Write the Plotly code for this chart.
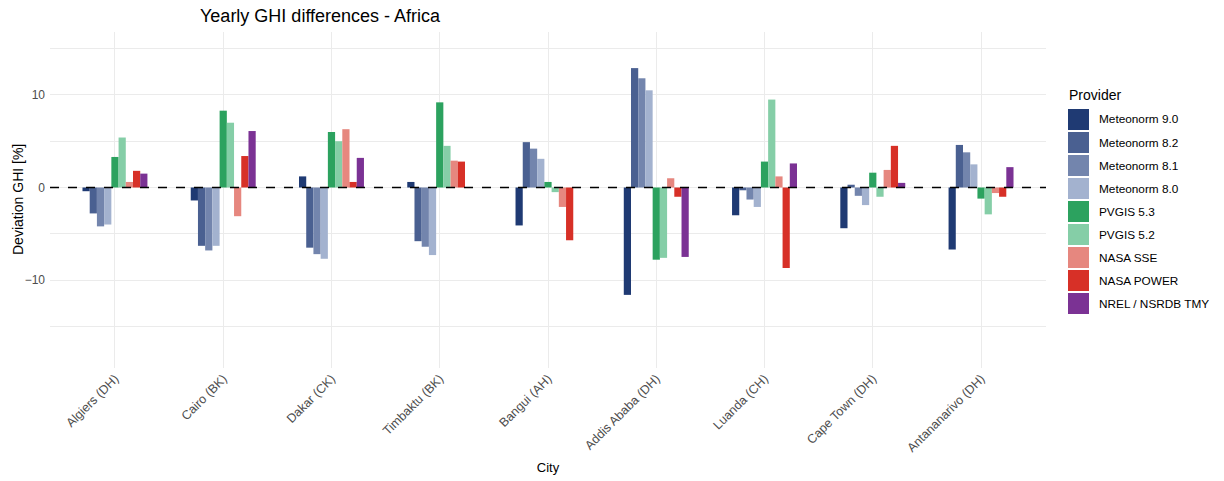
import plotly.graph_objects as go

# cities on the x axis
cities = ["Algiers (DH)", "Cairo (BK)", "Dakar (CK)", "Timbaktu (BK)", "Bangui (AH)",
          "Addis Ababa (DH)", "Luanda (CH)", "Cape Town (DH)", "Antananarivo (DH)"]

providers = ["Meteonorm 9.0", "Meteonorm 8.2", "Meteonorm 8.1", "Meteonorm 8.0",
             "PVGIS 5.3", "PVGIS 5.2", "NASA SSE", "NASA POWER", "NREL / NSRDB TMY"]

# deviation of yearly GHI [%] per provider, one value per city
meteonorm_90 = [-0.4, -1.4, 1.2, 0.6, -4.1, -11.6, -3.0, -4.4, -6.7]
meteonorm_82 = [-2.8, -6.3, -6.5, -5.8, 4.9, 12.9, -0.3, 0.3, 4.6]
meteonorm_81 = [-4.2, -6.8, -7.2, -6.4, 4.2, 11.8, -1.3, -0.9, 3.8]
meteonorm_80 = [-4.0, -6.3, -7.7, -7.3, 3.1, 10.5, -2.1, -1.9, 2.5]
pvgis_53 = [3.3, 8.3, 6.0, 9.2, 0.6, -7.8, 2.8, 1.6, -1.2]
pvgis_52 = [5.4, 7.0, 5.0, 4.5, -0.5, -7.6, 9.5, -1.0, -2.9]
nasa_sse = [0.6, -3.1, 6.3, 2.9, -2.1, 1.0, 1.2, 1.9, -0.6]
nasa_power = [1.8, 3.4, 0.6, 2.8, -5.7, -1.0, -8.7, 4.5, -1.0]
nrel_tmy = [1.5, 6.1, 3.2, None, None, -7.5, 2.6, 0.5, 2.2]

series = [meteonorm_90, meteonorm_82, meteonorm_81, meteonorm_80,
          pvgis_53, pvgis_52, nasa_sse, nasa_power, nrel_tmy]

colors = ["#1f3a73", "#4a6091", "#7385ad", "#a3b2cf",
          "#2ca25f", "#85cea7", "#e6877f", "#d73027", "#7b3294"]

W, H = 1224, 481
plot_l, plot_r, plot_t, plot_b = 50, 1046, 32, 368

fig = go.Figure()

for name, vals, col in zip(providers, series, colors):
    fig.add_trace(go.Bar(
        x=cities, y=vals, name=name,
        marker=dict(color=col, line=dict(width=0)),
        showlegend=False,
    ))

# dashed reference line at zero
fig.add_hline(y=0, line=dict(color="black", width=1.3, dash="dash"))


def px_x(x):
    return (x - plot_l) / (plot_r - plot_l)


def px_y(y):
    return (plot_b - y) / (plot_b - plot_t)


# y axis title placed by hand
fig.add_annotation(
    x=px_x(18), y=px_y(200), xref="paper", yref="paper", text="Deviation GHI [%]",
    showarrow=False, textangle=-90, xanchor="center", yanchor="middle",
    font=dict(size=14, color="black"),
)

# legend drawn by hand to get the large ggplot-style keys
fig.add_annotation(
    x=px_x(1067), y=px_y(95), xref="paper", yref="paper", text="Provider", showarrow=False,
    xanchor="left", yanchor="middle", font=dict(size=14, color="black"),
)
for i, (name, col) in enumerate(zip(providers, colors)):
    yc = 119.5 + i * 23
    fig.add_shape(
        type="rect", xref="paper", yref="paper",
        x0=px_x(1068), x1=px_x(1089), y0=px_y(yc - 10.5), y1=px_y(yc + 10.5),
        fillcolor=col, line=dict(width=0),
    )
    fig.add_annotation(
        x=px_x(1097), y=px_y(yc), xref="paper", yref="paper", text=name, showarrow=False,
        xanchor="left", yanchor="middle", font=dict(size=11.8, color="black"),
    )

fig.update_layout(
    width=W, height=H,
    margin=dict(l=plot_l, r=W - plot_r, t=plot_t, b=H - plot_b, autoexpand=False),
    barmode="group", bargap=0.4, bargroupgap=0,
    plot_bgcolor="white", paper_bgcolor="white",
    font=dict(family="Arial, Liberation Sans, sans-serif", color="#4d4d4d"),
    title=dict(
        text="Yearly GHI differences - Africa",
        x=200 / W, xanchor="left", xref="container",
        y=1 - 16 / H, yanchor="middle", yref="container",
        font=dict(size=18, color="black"),
    ),
    xaxis=dict(
        title=dict(text="City", font=dict(size=13, color="black"), standoff=8),
        tickangle=-45, tickfont=dict(size=12.5, color="#4d4d4d"),
        showgrid=True, gridcolor="#ebebeb", gridwidth=1,
        showline=False, ticks="", range=[-0.6, 8.6], automargin=False,
    ),
    yaxis=dict(
        range=[-19.5, 16.8], tickvals=[-10, 0, 10],
        tickfont=dict(size=12, color="#4d4d4d"), ticklabelstandoff=4,
        showgrid=True, gridcolor="#ebebeb", gridwidth=1,
        minor=dict(tickvals=[-15, -5, 5, 15], showgrid=True, gridcolor="#ebebeb", gridwidth=1),
        zeroline=False, showline=False, ticks="", automargin=False,
    ),
)

# drop the browser's default page margin so the figure sits at the top-left corner
fig.write_html("out.html", config={"displayModeBar": False},
               post_script="document.body.style.margin = '0';")
